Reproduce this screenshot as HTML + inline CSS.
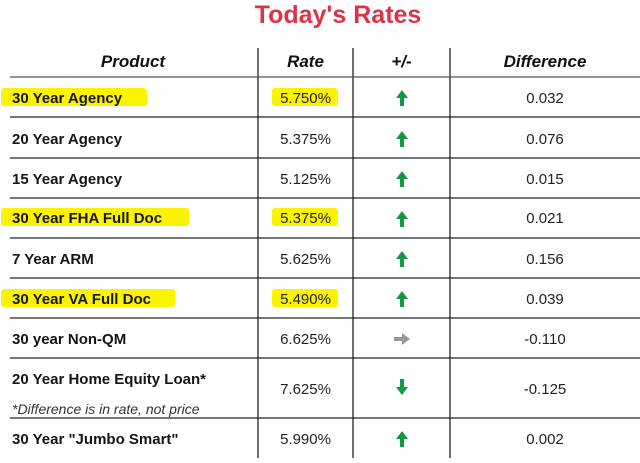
<!DOCTYPE html>
<html><head><style>
body{margin:0;width:640px;height:463px;background:#fff;position:relative;overflow:hidden;font-family:"Liberation Sans",sans-serif;}
.t{position:absolute;white-space:nowrap;}
.title{left:238px;width:200px;text-align:center;top:1px;font-size:25px;font-weight:bold;color:#d8344a;}
.h{top:52px;font-size:17px;font-weight:bold;font-style:italic;color:#111;}
.p{left:12px;font-size:15px;font-weight:bold;color:#151515;margin-top:2px;}
.r{left:258px;width:95px;text-align:center;font-size:15px;color:#222;margin-top:2px;}
.d{left:450px;width:190px;text-align:center;font-size:15px;color:#222;margin-top:2px;}
.hl{position:absolute;background:#fbf300;border-radius:3px;}
</style></head><body>
<div class="hl" style="left:1px;top:88px;width:146px;height:18px"></div>
<div class="hl" style="left:1px;top:208px;width:188px;height:18px"></div>
<div class="hl" style="left:1px;top:289px;width:174px;height:18px"></div>
<div class="hl" style="left:272px;top:88px;width:66px;height:18px"></div>
<div class="hl" style="left:272px;top:208px;width:66px;height:18px"></div>
<div class="hl" style="left:272px;top:289px;width:66px;height:18px"></div>
<svg width="640" height="463" style="position:absolute;left:0;top:0">
<g stroke="#222" stroke-width="1.3">
<line x1="258" y1="48" x2="258" y2="458"/><line x1="353" y1="48" x2="353" y2="458"/><line x1="450" y1="48" x2="450" y2="458"/>
</g>
<g stroke="#555" stroke-width="1.3">
<line x1="10" y1="77" x2="640" y2="77"/>
</g>
<g stroke="#222" stroke-width="1.3">
<line x1="10" y1="117" x2="640" y2="117"/><line x1="10" y1="158" x2="640" y2="158"/><line x1="10" y1="198" x2="640" y2="198"/><line x1="10" y1="238" x2="640" y2="238"/><line x1="10" y1="278" x2="640" y2="278"/><line x1="10" y1="318" x2="640" y2="318"/><line x1="10" y1="358" x2="640" y2="358"/><line x1="10" y1="418" x2="640" y2="418"/>
</g>
<defs><path id="up" d="M0,-8 L6,0 L2,0 L2,8 L-2,8 L-2,0 L-6,0 Z" fill="#119944"/></defs>
<use href="#up" x="402" y="98"/><use href="#up" x="402" y="139"/><use href="#up" x="402" y="179"/><use href="#up" x="402" y="219"/><use href="#up" x="402" y="259"/><use href="#up" x="402" y="299"/><use href="#up" x="402" y="439"/>
<path d="M0,-8 L6,0 L2,0 L2,8 L-2,8 L-2,0 L-6,0 Z" fill="#999" transform="translate(402,339) rotate(90)"/>
<path d="M0,-8 L6,0 L2,0 L2,8 L-2,8 L-2,0 L-6,0 Z" fill="#119944" transform="translate(402,387) rotate(180)"/>
</svg>
<div class="t title">Today's Rates</div>
<div class="t h" style="left:33px;width:200px;text-align:center">Product</div>
<div class="t h" style="left:258px;width:95px;text-align:center">Rate</div>
<div class="t h" style="left:353px;width:97px;text-align:center">+/-</div>
<div class="t h" style="left:450px;width:190px;text-align:center">Difference</div>

<div class="t p" style="top:88px">30 Year Agency</div>
<div class="t p" style="top:129px">20 Year Agency</div>
<div class="t p" style="top:169px">15 Year Agency</div>
<div class="t p" style="top:208px">30 Year FHA Full Doc</div>
<div class="t p" style="top:249px">7 Year ARM</div>
<div class="t p" style="top:289px">30 Year VA Full Doc</div>
<div class="t p" style="top:329px">30 year Non-QM</div>
<div class="t p" style="top:369px">20 Year Home Equity Loan*</div>
<div class="t" style="left:12px;top:401px;font-size:14px;font-style:italic;color:#333">*Difference is in rate, not price</div>
<div class="t p" style="top:429px">30 Year "Jumbo Smart"</div>

<div class="t r" style="top:88px">5.750%</div>
<div class="t r" style="top:129px">5.375%</div>
<div class="t r" style="top:169px">5.125%</div>
<div class="t r" style="top:208px">5.375%</div>
<div class="t r" style="top:249px">5.625%</div>
<div class="t r" style="top:289px">5.490%</div>
<div class="t r" style="top:329px">6.625%</div>
<div class="t r" style="top:379px">7.625%</div>
<div class="t r" style="top:429px">5.990%</div>

<div class="t d" style="top:88px">0.032</div>
<div class="t d" style="top:129px">0.076</div>
<div class="t d" style="top:169px">0.015</div>
<div class="t d" style="top:208px">0.021</div>
<div class="t d" style="top:249px">0.156</div>
<div class="t d" style="top:289px">0.039</div>
<div class="t d" style="top:329px">-0.110</div>
<div class="t d" style="top:379px">-0.125</div>
<div class="t d" style="top:429px">0.002</div>
</body></html>
